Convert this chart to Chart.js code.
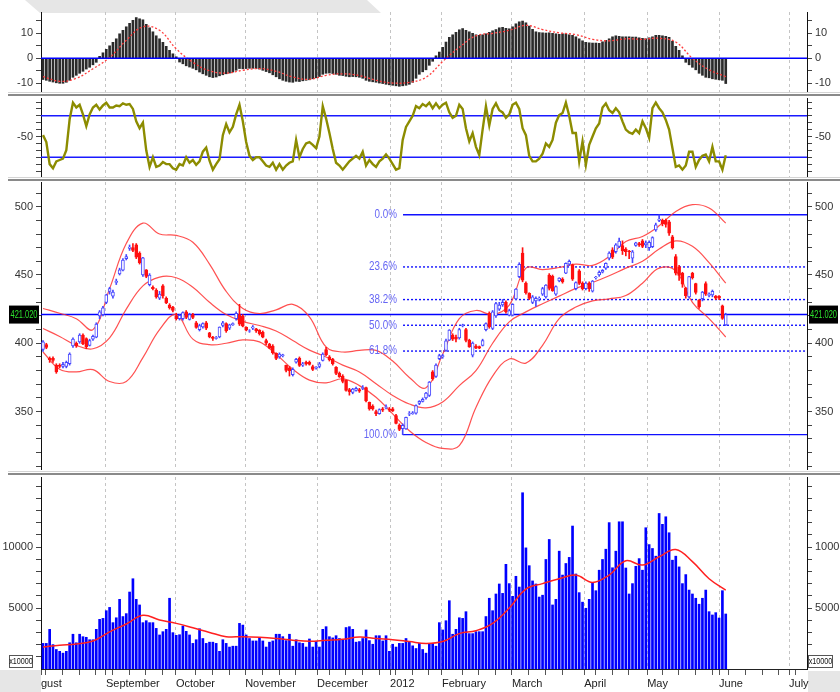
<!DOCTYPE html>
<html>
<head>
<meta charset="utf-8">
<script src="https://cdn.jsdelivr.net/npm/chart.js@4.4.1/dist/chart.umd.min.js"></script>
<style>
html,body{margin:0;padding:0;background:#fff;width:840px;height:692px;overflow:hidden;position:relative}
canvas{position:absolute;left:0}
.sepL{position:absolute;left:8px;width:832px;height:1px;background:#d4d4d4}
.sepD{position:absolute;left:8px;width:832px;height:2px;background:#8a8a8a}
#tab{position:absolute;left:25px;top:0;width:356px;height:13px;background:#e6e6e6;clip-path:polygon(0 0,342px 0,356px 13px,15px 13px)}
.gbox{position:absolute;background:#e6e6e6}
</style>
</head>
<body>
<div id="tab"></div>
<canvas id="c1" width="840" height="80" style="top:12px;width:840px;height:80px"></canvas>
<canvas id="c2" width="840" height="80" style="top:98px;width:840px;height:80px"></canvas>
<canvas id="c3" width="840" height="288" style="top:182px;width:840px;height:288px"></canvas>
<div class="gbox" style="left:0;top:670px;width:41px;height:22px"></div>
<div class="gbox" style="left:808px;top:671px;width:32px;height:21px"></div>
<canvas id="c4" width="840" height="215" style="top:477px;width:840px;height:215px"></canvas>
<div class="sepL" style="top:92px"></div><div class="sepD" style="top:94px"></div>
<div class="sepL" style="top:177px"></div><div class="sepD" style="top:179px"></div>
<div class="sepL" style="top:471px"></div><div class="sepD" style="top:473px"></div>
<script>
// ---------------- DATA ----------------
const monthNames = ['September','October','November','December','2012','February','March','April','May','June','July'];
const monthPos = [18.9, 39.9, 60.7, 82.3, 104.2, 119.8, 140.8, 162.5, 181.4, 203.0, 224.0];
const firstLabel = 'gust';

const openP = [395.5,399,389,389,384,384,383,383,385,398,400,401,406,403.5,398.5,403,404.5,420,421,430,
438,434.5,444.5,450.7,453.5,462,469.5,470,472,466,450,453.7,443,441,439,433,442,433,428,426.5,
420,418,418,423,417.5,421,415,410,412,415,407.6,404.5,403.6,404.6,413,414.5,411,413.5,418,421,
420,411.8,408.8,411,410.5,409.5,408,402,399.5,398,392.6,390,391,383.8,382,377,386.2,389,384,386,
386,383,382,383,387.5,395.3,390,388.5,382.4,378,376,372.8,366,364,365.5,366,367,367.6,356.8,354,
350,348.5,352,353,352,352,347,340,337.5,337.3,348,348.5,348.8,356,357.5,360,361.8,379,375.7,388.7,
390,394.8,402.2,406,404.5,404,413,410,402.2,391.2,398,397.5,398.5,410,422,410.8,420,425,428,430,
420.6,420.6,432.4,448.8,466,444,436.5,430,431,432.5,436,434,450,449,436,445.6,447,451.3,458,457.4,
440,453,444,440,444,438.2,448,450,452,455,462.3,468.4,467,471,471.6,469,467.5,462.3,471.6,473,
475,472,470,470.8,483.1,490,490,490,489,478,463.5,456,451.3,440.2,434,451.3,443.8,431.6,432.6,443.8,
435,435.5,434.5,434.5,427.4,413.5];
const closeP = [401,397,388,387.5,379,383,384.5,386,392,403,398,406,399.5,397.5,402,405,414,423,426,435.5,
440,437.5,445.5,453.7,461,463.5,470.5,468,463,459,462.5,449,450,440,434,436,434.6,429.5,426,424,
418,420.5,422.5,419,421,419,411.7,413,414.5,411,404.6,403.5,404.2,411.8,415,409,413.5,414.5,422,414,
412.5,409.6,409.2,412,409,407,404.5,400,396.5,393,389,392,391.5,380.1,380,381,388.2,383.7,385,385,
384.5,380.8,382.5,385,392,391.6,388,385,378,375.5,372,365.4,364.5,366.5,367,365,367.5,357.8,352,352,
348.5,351.5,351,353.5,351,350.5,341.4,337,340,345.8,348.5,349,354.4,357.5,359,363.5,371.6,374,384,391,
391,401.7,409.6,403,403,410,413.4,402,397.3,400.2,396.5,396.5,402,414.5,412,423,429,428,430,423,
424,428.5,439.7,457.9,446.3,437,432.9,434,433,433,440,442.6,440.2,438.5,441.5,447.8,445,458.6,460,447,
444.5,443.8,440,444,440,445.6,448.5,452,453.5,458.6,466,463,472,474.8,467.6,467,467,467,473.5,472,
471,473.5,474,477.4,486.8,491,487.5,487,480.6,470,451.3,449.6,443.2,434.8,448.8,448,437.3,426.7,437.4,436,
436,438,433,433,418.2,421.02];
const highP = [402,400,390,390,385,385,386,387,393,404,401,407,407,404,403,406,415,424,427,436,
441,439,447,455,462,465,472,473,473,467,463,454,451,442,440,438,443,434,429,427,
422,421,423,424,422,422,416,414,415,416,408,405,405,412,416,415,414,415,423,428.5,
421,412,410,413,411,410,409,403,400,399,393,393,392,384,383,382,389,390,386,387,
387,384,383,386,393,397,391,389,383,379,377,373,367,367,368,367,369,368,357,355,
351,352,353,355,353,353,348,341,341,346,350,350,355,358,360,364,372,380,385,392,
392,403,410,407,406,411,414,411,403,401,399,398,403,415,423,424,430,430,432,431,
425,429,440,459,470,445,437,435,434,434,441,443,451,450,442,448,448,459,461,458,
445,454,445,445,445,446,449,453,454,459,467,470,473,477,475,470,468,468,474,474,
476,475,475,478,488,494,491,491,490,479,465,457,452,441,449,452,444,432,438,445,
437,439,435,435,428,422];
const lowP = [394,396,386,386,378,382,382,382,384,397,397,400,399,396,398,402,404,418,420,429,
436,433,443,450,453,461,468,467,462,458,449,448,442,439,433,432,433,429,425,423,
417,417,417,418,417,418,411,409,411,410,404,402,403,404,412,408,410,413,417,413,
412,409,408,410,408,406,404,399,396,392,388,389,390,379,376,376,385.5,383,383,384,
384,380,381,382,387,391,387,384,377,375,371,365,362,363,365,364,366,357,351,351,
347,348,350,352,350,350,341,336,333,337,347,348,348,355,357,359,361,373,375,388,
389,394,402,402,401,403,412,401,397,390,396,396,398,409,411,410,419,424,427,422,
420,420,432,448,445,436,432,429,427,431,435,433,439,438,435,445,444,451,457,446,
439,443,439,439,438,437.5,447,449,451.5,454,461,462,466,470,465,464,462,459,471,471,
470,470,468,470,482,489,486,485,479,469,450,446,441,433,433,447,436,425.5,431,435,
434,434,432,432,417.5,413];

// Bollinger bands, sampled every 5 bars (bar 0, 5, 10 ... 205)
const bbUpper = [425.5,422,418,410,440,473,488,480,479,474,458,438,425.5,421.8,424.5,428.5,419.4,397.3,393.6,394.8,
394.8,387,375,367.4,392,418,424,421,428,455,454,455.5,458,457,463.5,474.5,478.2,486,496.5,501.5,499,488];
const bbMid = [410.8,405,398.5,396,404,425,442,448.5,448,441,430,421,416,413,409,402,395,390,384,379,
370.4,361.8,355.5,352.7,357,369,380,400,415.7,423,429,434.5,440.2,444.5,449.5,455,460,469,475,471,459,444];
const bbLower = [393.6,381,379,380.7,372,372,389.5,410,421,403,399,400,402.5,401,392,381,373,371,374,369,
360.5,348.3,336,327.4,323,325,353,376,388.5,385.5,398.5,418,426.5,431,432.5,435,444,455,453,430,418,404.6];

// Fibonacci retracement levels and last price
const fibLevels = [494.1, 455.9, 432.0, 413.2, 394.3, 333.1];
const fibNames = ['0.0%','23.6%','38.2%','50.0%','61.8%','100.0%'];
const fibStart = 108.1;
const lastPrice = 421.02;
const lastLabel = '421.020';

// MACD histogram (per bar) and signal (every 5 bars)
const macdHist = [-8.5,-8.8,-9.2,-9.5,-9.8,-10,-10,-9.6,-8.8,-7.6,
-6.8,-6,-5.2,-4.3,-3.6,-2.6,-1.6,0.8,2.2,3.6,
5,6.4,7.8,9.8,11.2,12.6,14,15.2,16.3,15.8,
15.4,13.6,12.2,10.6,9,7.8,6.4,4.8,3.2,1.8,
0.6,-1.5,-2.2,-3,-3.5,-4,-4.6,-5.5,-6.2,-6.8,
-7.4,-7.7,-7.5,-7,-6.6,-6.2,-5.9,-5.5,-4.8,-4.1,
-4.2,-4.1,-4,-4,-4.1,-4.3,-4.8,-5.3,-5.8,-6.6,
-7.4,-8.2,-8.8,-9.2,-9.5,-9.6,-9.2,-9.3,-9,-8.8,
-8.6,-8.2,-7.8,-7.3,-6.4,-6,-5.9,-6.1,-6.4,-6.8,
-6.9,-7.2,-7.4,-7.3,-7.4,-7.6,-8,-8.8,-9.2,-9.4,
-9.6,-9.9,-10.1,-10.4,-10.6,-10.8,-11,-11.2,-11,-10.8,
-10.4,-9.6,-8,-6.4,-5.4,-4.6,-2.8,-1.2,1,2.5,
4.4,6.5,8.4,9.4,10.4,11.4,11.9,11.2,10.6,10,
9.4,9.2,9.4,9.8,10.4,11,11.5,12.2,12.4,12,
11.8,12.6,13.8,14.6,14.9,14.2,12.9,11.6,10.6,10.3,
10.2,10.1,10.2,10,9.8,9.6,9.8,9.8,9.4,9.2,
8.6,7.8,7,6.4,6.2,6.1,6.1,6,6.6,7.2,
7.8,8.6,9,8.8,8.6,8.6,8.6,8.5,8.5,8.2,
8,7.8,8.2,8.6,9.2,9.2,9,8.8,8.4,6.8,
4.8,3.2,1,-1.6,-2.6,-3.6,-4.6,-6,-6.8,-7.6,
-7.8,-8.2,-8.4,-8.6,-8.8,-10.1];
const macdSignal = [-7.3,-9.2,-8.0,-4.2,0.3,7.2,12.6,11.2,3.8,-1.6,-5.0,-5.9,-4.8,-4.1,-5.2,-7.5,-8.4,-6.8,-6.2,-6.9,
-8.8,-9.9,-9.6,-7.6,-1.3,4.4,9.0,10.0,11.2,13.2,11.5,10.2,9.5,7.6,7.0,7.8,7.6,8.0,6.5,0.0,-4.6,-7.3];

// Oscillator (%R style), per bar, with its two reference levels
const osc = [-48,-58,-90,-96,-86,-84,-82,-70,-25,-1,
-8,-4,-18,-35,-18,-8,-4,-11,-5,-1,
-8,-8,-5,-6,-2,-4,-3,-10,-28,-38,
-30,-70,-94,-80,-94,-92,-87,-90,-90,-96,
-98,-90,-92,-80,-88,-84,-91,-86,-72,-66,
-85,-98,-90,-83,-48,-32,-44,-36,-18,-4,
-28,-58,-78,-84,-80,-80,-86,-92,-94,-88,
-98,-90,-98,-92,-88,-86,-55,-80,-68,-60,
-58,-62,-67,-50,-6,-24,-45,-68,-88,-92,
-98,-92,-86,-82,-78,-82,-72,-92,-84,-90,
-94,-86,-82,-76,-82,-90,-98,-96,-55,-36,
-28,-20,-6,-9,-3,-6,-1,-9,-2,-9,
-4,-1,-15,-23,-20,-4,-10,-38,-57,-45,
-65,-77,-40,-6,-34,-10,-2,-12,-15,-23,
-18,-4,-1,-10,-38,-48,-78,-86,-86,-82,
-75,-60,-65,-55,-30,-19,-16,-1,-20,-45,
-45,-86,-57,-91,-62,-50,-38,-31,-8,-2,
-12,-16,-9,-15,-28,-40,-44,-46,-40,-45,
-28,-38,-52,-9,-1,-9,-15,-26,-40,-67,
-94,-92,-98,-92,-72,-72,-94,-84,-78,-76,
-86,-65,-86,-86,-98,-77];
const oscLevels = [-20, -80];

// Volume (x10000), per bar, and its moving average (every 5 bars)
const volume = [2100,2100,3250,2000,1600,1450,1300,1450,2150,2850,
2150,2850,2650,2600,2400,2400,3250,4070,4150,4780,
5050,3800,4200,5710,4300,4540,6310,7400,5710,5250,
3800,3960,3800,3800,3330,2790,3060,3250,5800,2980,
2760,2810,3520,3090,2790,2100,2400,3300,2500,2100,
2200,2200,2100,1450,2400,2100,1800,1870,1870,3740,
3600,2790,2500,2300,2300,2550,2300,1800,2200,2300,
2850,2850,2650,2330,2850,1870,2400,2150,2100,1800,
2460,1800,2250,1800,3250,3470,2650,2550,2730,2500,
2400,3400,3470,3250,2200,2250,2500,3200,2330,2030,
2730,2730,2300,2730,1450,2030,1800,2100,2100,2500,
2250,1900,1680,2100,1600,1300,2100,2100,1870,3800,
3200,3960,5600,2850,3250,4200,4150,4700,2900,2900,
3060,3060,3060,4300,5800,4780,6150,6970,6200,8580,
7000,5960,7600,6720,14450,9930,8470,7220,6970,5900,
6050,8980,10620,5250,5710,9660,7700,8650,9150,11720,
7790,6260,5480,4980,5710,7070,6420,8100,8980,9820,
12000,8300,9660,12070,12070,8280,6150,7000,8420,9050,
8100,11580,10200,9880,9250,12750,11860,12480,11170,8920,
9250,8370,7000,7740,6470,6150,5800,5310,5800,6470,
4700,4430,4620,4180,6420,4510];
const volMA = [1800,1950,2050,2300,3050,3690,4400,4020,3740,3380,3000,2650,2650,2600,2500,2360,2270,2350,2430,2630,
2500,2400,2250,2100,2250,2900,3140,3740,5000,6550,7000,7400,7700,7100,7700,8870,8520,9200,9800,8800,7400,6470];

// axis tick values
const p1Ticks = [-10,-5,0,5,10,15], p1Labels = [-10,0,10];
const p2Ticks = [0,-10,-20,-30,-40,-50,-60,-70,-80,-90,-100], p2Labels = [-50];
const p3Ticks = [310,320,330,340,350,360,370,380,390,400,410,420,430,440,450,460,470,480,490,500,510], p3Labels = [350,400,450,500];
const p4Ticks = [1000,2000,3000,4000,5000,6000,7000,8000,9000,10000,11000,12000,13000,14000,15000], p4Labels = [5000,10000];
const volUnit = 'x10000';

// ---------------- CHART SETUP ----------------
const FONT = "'Liberation Sans',Arial,sans-serif";
Chart.defaults.font.family = FONT;
Chart.defaults.font.size = 11;
Chart.defaults.animation = false;
Chart.defaults.events = [];
Chart.defaults.plugins.legend.display = false;
Chart.defaults.plugins.tooltip.enabled = false;

const X_MIN = -0.6, X_MAX = 229.4;
const N = closeP.length;
const idx = [...Array(N).keys()];
const sIdx = bbUpper.map((_, k) => k * 5);

const xTicks = [{v: X_MIN, l: firstLabel, g: false}];
monthPos.forEach((v, k) => xTicks.push({v, l: monthNames[k], g: true}));
for (let w = 0.9; w < X_MAX; w += 5) {
  if (!monthPos.some(m => Math.abs(m - w) < 1.6)) xTicks.push({v: w, l: '', g: false});
}
xTicks.sort((a, b) => a.v - b.v);

function narrowText(ctx, text, x, y, align, sx) {
  ctx.save();
  ctx.translate(x, y);
  ctx.scale(sx, 1);
  ctx.textAlign = align;
  ctx.fillText(text, 0, 0);
  ctx.restore();
}

function xAxis(show) {
  return {
    type: 'linear', min: X_MIN, max: X_MAX, offset: false,
    afterBuildTicks: s => { s.ticks = xTicks.map(t => ({value: t.v})); },
    ticks: { display: show, autoSkip: false, maxRotation: 0, minRotation: 0, align: 'start', padding: 2,
             color: '#222', font: {size: 11}, callback: (v, i) => xTicks[i] ? xTicks[i].l : '' },
    grid: { offset: false, drawOnChartArea: true, drawTicks: show, tickLength: 6,
            color: c => (xTicks[c.index] && xTicks[c.index].g) ? '#c4c4c4' : 'rgba(0,0,0,0)',
            tickColor: '#555', lineWidth: 1 },
    border: { display: show, color: '#222', dash: [3, 3] },
    afterFit: s => { s.height = show ? 23 : 0; s.paddingLeft = 0; s.paddingRight = 0; }
  };
}
function yAxis(pos, min, max, tv, lv) {
  return {
    type: 'linear', position: pos, min, max,
    afterBuildTicks: s => { s.ticks = tv.map(v => ({value: v})); },
    ticks: { autoSkip: false, padding: 3, color: '#333', font: {size: 11},
             callback: v => lv.includes(v) ? String(v) : '' },
    grid: { drawOnChartArea: false, drawTicks: true, tickLength: 5, color: '#444', tickColor: '#444' },
    border: { display: true, color: '#111', width: 1 },
    afterFit: s => { s.width = pos === 'left' ? 41 : 33; s.paddingTop = 0; s.paddingBottom = 0; }
  };
}
function scales(show, min, max, tv, lv) {
  return { x: xAxis(show), y: yAxis('left', min, max, tv, lv), y2: yAxis('right', min, max, tv, lv) };
}
const baseOpts = { responsive: false, devicePixelRatio: 1, layout: { padding: 0 }, animation: false };
const hLine = (v, x0) => [{x: x0 === undefined ? X_MIN : x0, y: v}, {x: X_MAX, y: v}];
const lineDs = (data, color, w, extra) => Object.assign({ type: 'line', data, borderColor: color, borderWidth: w,
  pointRadius: 0, fill: false, tension: 0, yAxisID: 'y' }, extra || {});

// Panel 1: MACD
new Chart(document.getElementById('c1'), {
  type: 'line',
  data: { datasets: [
    lineDs(hLine(0), '#0000ff', 1.5, {order: 0}),
    lineDs(sIdx.map((x, k) => ({x, y: macdSignal[k]})), '#ff3b3b', 1.3, {order: 1, borderDash: [2, 2], tension: 0.4}),
    { type: 'bar', data: idx.map(i => ({x: i, y: macdHist[i]})), backgroundColor: '#2b2b2b', barThickness: 2,
      grouped: false, yAxisID: 'y', order: 2 }
  ]},
  options: Object.assign({}, baseOpts, { scales: scales(false, -13.48, 18.52, p1Ticks, p1Labels) })
});

// Panel 2: oscillator
new Chart(document.getElementById('c2'), {
  type: 'line',
  data: { datasets: [
    lineDs(idx.map(i => ({x: i, y: osc[i]})), '#8c8c00', 2.4, {order: 0}),
    ...oscLevels.map(v => lineDs(hLine(v), '#1a1aff', 1.5, {order: 1}))
  ]},
  options: Object.assign({}, baseOpts, { scales: scales(false, -110.1, 5.8, p2Ticks, p2Labels) })
});

// Panel 3: candlesticks + Bollinger + Fibonacci
const isUp = idx.map(i => closeP[i] >= openP[i]);
const mainDecor = {
  id: 'mainDecor',
  afterDraw(chart) {
    const {ctx, scales: {x, y}} = chart;
    ctx.save();
    ctx.font = '12px ' + FONT;
    ctx.fillStyle = '#6666f4';
    ctx.textBaseline = 'middle';
    const lx = x.getPixelForValue(fibStart) - 6;
    fibLevels.forEach((v, k) => narrowText(ctx, fibNames[k], lx, y.getPixelForValue(v), 'right', 0.82));
    const py = y.getPixelForValue(lastPrice);
    ctx.fillStyle = '#000';
    ctx.fillRect(9, py - 9, 30, 18);
    ctx.fillRect(809, py - 9, 29, 18);
    ctx.fillStyle = '#2ee02e';
    ctx.font = '11px ' + FONT;
    narrowText(ctx, lastLabel, 24, py + 0.5, 'center', 0.68);
    narrowText(ctx, lastLabel, 823.5, py + 0.5, 'center', 0.68);
    ctx.restore();
  }
};
new Chart(document.getElementById('c3'), {
  type: 'line',
  data: { datasets: [
    { type: 'bar', data: idx.map(i => ({x: i, y: [openP[i], closeP[i]]})),
      backgroundColor: idx.map(i => isUp[i] ? '#ffffff' : '#ff1010'),
      borderColor: idx.map(i => isUp[i] ? '#4646ff' : '#ff1010'),
      borderWidth: 1, borderSkipped: false, barThickness: 3, grouped: false, yAxisID: 'y', order: 0 },
    { type: 'bar', data: idx.map(i => ({x: i, y: [lowP[i], highP[i]]})),
      backgroundColor: idx.map(i => isUp[i] ? '#4646ff' : '#ff1010'),
      borderWidth: 0, barThickness: 1, grouped: false, yAxisID: 'y', order: 1 },
    lineDs(sIdx.map((x, k) => ({x, y: bbUpper[k]})), 'rgba(255,50,50,0.85)', 1.2, {order: 2, tension: 0.4}),
    lineDs(sIdx.map((x, k) => ({x, y: bbMid[k]})), 'rgba(255,50,50,0.85)', 1.2, {order: 2, tension: 0.4}),
    lineDs(sIdx.map((x, k) => ({x, y: bbLower[k]})), 'rgba(255,50,50,0.85)', 1.2, {order: 2, tension: 0.4}),
    lineDs(hLine(lastPrice), '#0000ff', 1.5, {order: 3}),
    ...fibLevels.map((v, k) => lineDs(hLine(v, fibStart), '#1010ff', 1.4,
        {order: 4, borderDash: (k === 0 || k === fibLevels.length - 1) ? [] : [2, 2]}))
  ]},
  options: Object.assign({}, baseOpts, { scales: scales(false, 307.2, 518.1, p3Ticks, p3Labels) }),
  plugins: [mainDecor]
});

// Panel 4: volume
const volDecor = {
  id: 'volDecor',
  afterDraw(chart) {
    const {ctx, chartArea} = chart;
    const by = chartArea.bottom - 14;
    ctx.save();
    ctx.font = '9px ' + FONT;
    ctx.textBaseline = 'middle';
    [[9, 23], [808, 24]].forEach(([bx, bw]) => {
      ctx.fillStyle = '#fff';
      ctx.fillRect(bx, by, bw, 12);
      ctx.strokeStyle = '#555';
      ctx.lineWidth = 1;
      ctx.strokeRect(bx + 0.5, by + 0.5, bw, 12);
      ctx.fillStyle = '#111';
      narrowText(ctx, volUnit, bx + bw / 2 + 0.5, by + 6.5, 'center', 0.8);
    });
    ctx.restore();
  }
};
new Chart(document.getElementById('c4'), {
  type: 'line',
  data: { datasets: [
    lineDs(sIdx.map((x, k) => ({x, y: volMA[k]})), '#ff2020', 1.5, {order: 0, tension: 0.4}),
    { type: 'bar', data: idx.map(i => ({x: i, y: volume[i]})), backgroundColor: '#0000ff', barThickness: 2,
      grouped: false, yAxisID: 'y', order: 1 }
  ]},
  options: Object.assign({}, baseOpts, { scales: scales(true, 0, 15740, p4Ticks, p4Labels) }),
  plugins: [volDecor]
});
</script>
</body>
</html>
